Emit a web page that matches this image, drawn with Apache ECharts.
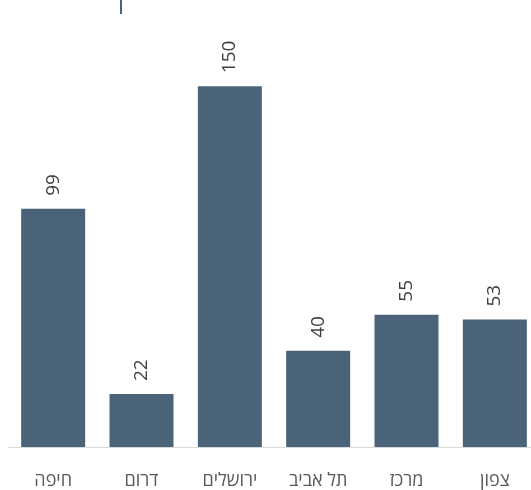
<!DOCTYPE html>
<html lang="he">
<head>
    <meta charset="UTF-8">
    <title>bar</title>
    <script src="https://cdn.jsdelivr.net/npm/echarts@6/dist/echarts.min.js"></script>
    <style>
        body { margin: 0; }
        #chart { width: 531px; height: 490px; }
    </style>
</head>
<body>
    <div id="chart"></div>
    <script>
        let categories = ['חיפה', 'דרום', 'ירושלים', 'תל אביב', 'מרכז', 'צפון'];
        let values = [99, 22, 150, 40, 55, 53];

        let chart = echarts.init(document.querySelector('#chart'));
        let font = '"Open Sans", "Liberation Sans", "DejaVu Sans", sans-serif';
        let option = {
            animation: false,
            // grid runs past the right edge, last bar is cut like in the original
            grid: { left: 9, width: 530, top: 14, bottom: 43, outerBoundsMode: 'none', containLabel: false },
            xAxis: {
                type: 'category',
                data: categories,
                axisLine: { lineStyle: { color: '#d9d9d9', width: 1 } },
                axisTick: { show: false },
                axisLabel: { color: '#595959', fontSize: 18, fontFamily: font, margin: 25 }
            },
            yAxis: {
                type: 'value',
                min: 0,
                max: 180,
                show: false,
                splitLine: { show: false }
            },
            series: [{
                type: 'bar',
                data: values,
                barWidth: 64,
                itemStyle: { color: '#4a6379' },
                label: {
                    show: true,
                    position: 'top',
                    rotate: 90,
                    align: 'left',
                    verticalAlign: 'middle',
                    distance: 13,
                    color: '#404040',
                    fontSize: 19,
                    fontFamily: font
                }
            }],
            graphic: [{
                type: 'rect',
                shape: { x: 120, y: 0, width: 2, height: 14 },
                style: { fill: '#4a6379' }
            }]
        };
        chart.setOption(option);
    </script>
</body>
</html>
